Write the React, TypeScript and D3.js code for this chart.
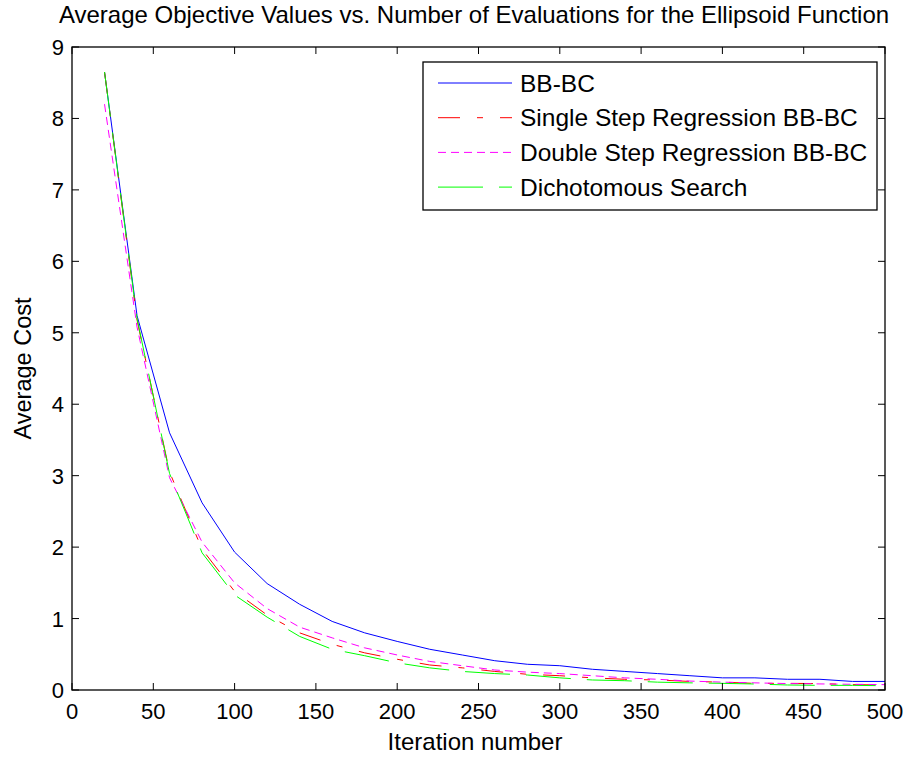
import React from "react";
import * as d3 from "d3";

const iterations = [20, 40, 60, 80, 100, 120, 140, 160, 180, 200, 220, 240, 260, 280, 300, 320, 340, 360, 380, 400, 420, 440, 460, 480, 500];

const bbbc = [8.65, 5.24, 3.6, 2.62, 1.93, 1.49, 1.2, 0.96, 0.8, 0.68, 0.57, 0.49, 0.41, 0.36, 0.34, 0.29, 0.26, 0.23, 0.2, 0.17, 0.17, 0.15, 0.15, 0.12, 0.12];
const singleStep = [8.65, 5.18, 3.05, 1.97, 1.38, 1.05, 0.8, 0.64, 0.52, 0.43, 0.35, 0.31, 0.26, 0.22, 0.2, 0.17, 0.15, 0.14, 0.12, 0.11, 0.093, 0.093, 0.09, 0.075, 0.07];
const doubleStep = [8.2, 5.08, 2.97, 2.07, 1.5, 1.14, 0.88, 0.73, 0.59, 0.49, 0.4, 0.34, 0.28, 0.25, 0.23, 0.2, 0.17, 0.15, 0.125, 0.11, 0.1, 0.09, 0.085, 0.08, 0.075];
const dichotomous = [8.65, 5.2, 3.03, 1.92, 1.33, 1.02, 0.75, 0.57, 0.48, 0.38, 0.31, 0.26, 0.23, 0.21, 0.17, 0.14, 0.13, 0.11, 0.1, 0.093, 0.084, 0.07, 0.065, 0.065, 0.06];

const xTicks = [0, 50, 100, 150, 200, 250, 300, 350, 400, 450, 500];
const yTicks = [0, 1, 2, 3, 4, 5, 6, 7, 8, 9];

const series = [
  { name: "BB-BC", values: bbbc, color: "#0000ff", dash: "" },
  { name: "Single Step Regression BB-BC", values: singleStep, color: "#ff0000", dash: "22,17,6,17" },
  { name: "Double Step Regression BB-BC", values: doubleStep, color: "#ff00ff", dash: "8,5" },
  { name: "Dichotomous Search", values: dichotomous, color: "#00ff00", dash: "45,16" },
];

const W = 913;
const H = 757;
const left = 72;
const right = 885;
const top = 47;
const bottom = 690;
const font = "'Liberation Sans', Arial, sans-serif";

export default function App() {
  const x = d3.scaleLinear().domain([0, 500]).range([left, right]);
  const y = d3.scaleLinear().domain([0, 9]).range([bottom, top]);
  const line = d3
    .line<number>()
    .x((_, i) => x(iterations[i]))
    .y((d) => y(d));

  const tick = 7;

  return (
    <svg width={W} height={H} style={{ display: "block", fontFamily: font }}>
      <style>{`body{margin:0}`}</style>
      <rect width={W} height={H} fill="#fff" />

      <text x={474} y={23} textAnchor="middle" fontSize={24}>
        Average Objective Values vs. Number of Evaluations for the Ellipsoid Function
      </text>

      {series.map((s) => (
        <path
          key={s.name}
          d={line(s.values) || ""}
          fill="none"
          stroke={s.color}
          strokeWidth={1}
          strokeDasharray={s.dash || undefined}
        />
      ))}

      <rect x={left} y={top} width={right - left} height={bottom - top} fill="none" stroke="#000" strokeWidth={1.3} />

      {xTicks.map((t) => (
        <g key={"x" + t}>
          <line x1={x(t)} x2={x(t)} y1={bottom} y2={bottom - tick} stroke="#000" />
          <line x1={x(t)} x2={x(t)} y1={top} y2={top + tick} stroke="#000" />
          <text x={x(t)} y={719} textAnchor="middle" fontSize={22}>
            {t}
          </text>
        </g>
      ))}

      {yTicks.map((t) => (
        <g key={"y" + t}>
          <line x1={left} x2={left + tick} y1={y(t)} y2={y(t)} stroke="#000" />
          <line x1={right} x2={right - tick} y1={y(t)} y2={y(t)} stroke="#000" />
          <text x={64} y={y(t) + 8} textAnchor="end" fontSize={22}>
            {t}
          </text>
        </g>
      ))}

      <text x={475} y={750} textAnchor="middle" fontSize={24}>
        Iteration number
      </text>
      <text
        transform={`translate(31,${(top + bottom) / 2}) rotate(-90)`}
        textAnchor="middle"
        fontSize={23.5}
      >
        Average Cost
      </text>

      <g>
        <rect x={423} y={62} width={454} height={148} fill="#fff" stroke="#000" strokeWidth={1.3} />
        {series.map((s, i) => {
          const cy = 83 + i * 34.7;
          return (
            <g key={"lg" + s.name}>
              <line x1={438} x2={512} y1={cy} y2={cy} stroke={s.color} strokeDasharray={s.dash || undefined} />
              <text x={520} y={cy + 8.5} fontSize={24.5}>
                {s.name}
              </text>
            </g>
          );
        })}
      </g>
    </svg>
  );
}
